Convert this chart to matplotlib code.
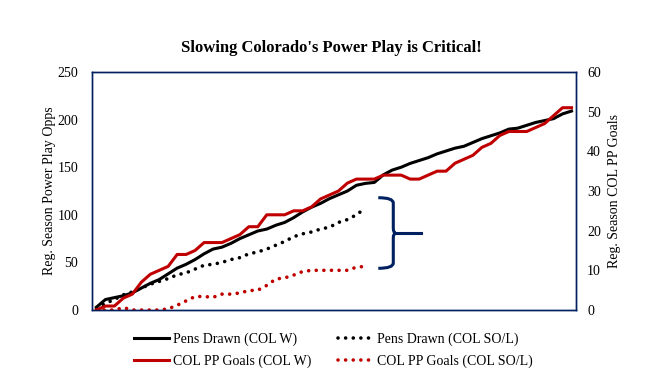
import numpy as np
import matplotlib
matplotlib.use('Agg')
import matplotlib.pyplot as plt
from matplotlib.path import Path
from matplotlib.patches import PathPatch

plt.rcParams['font.family'] = ['Liberation Serif', 'DejaVu Serif']

#Data (cumulative by game)
pens_w = [3, 11, 13, 15, 18, 23, 28, 32, 38, 44, 48, 53, 59, 64, 66, 70, 75, 79,
          83, 85, 89, 92, 97, 103, 108, 112, 117, 121, 125, 131, 133, 134, 142,
          147, 150, 154, 157, 160, 164, 167, 170, 172, 176, 180, 183, 186, 190,
          191, 194, 197, 199, 201, 206, 209]
pp_w = [0, 1, 1, 3, 4, 7, 9, 10, 11, 14, 14, 15, 17, 17, 17, 18, 19, 21, 21, 24,
        24, 24, 25, 25, 26, 28, 29, 30, 32, 33, 33, 33, 34, 34, 34, 33, 33, 34,
        35, 35, 37, 38, 39, 41, 42, 44, 45, 45, 45, 46, 47, 49, 51, 51]
pens_l = [2, 7, 11, 16, 19, 23, 27, 30, 33, 37, 39, 43, 47, 48, 50, 53, 55, 59,
          61, 64, 68, 72, 77, 80, 82, 85, 87, 92, 95, 100, 107]
pp_l = [0, 0, 0, 0.6, 0, 0, 0, 0, 0.3, 1.2, 2.3, 3.4, 3.4, 3.2, 4, 4, 4.3, 4.9,
        5, 6.2, 7.8, 8.1, 8.8, 9.7, 10, 10, 10, 10, 10, 10.8, 11]

navy = '#002060'
red = '#C00000'

fig = plt.figure(figsize=(6.45, 3.75), dpi=100)
ax = fig.add_axes([92/645, 65/375, 484/645, 238/375])
ax2 = ax.twinx()

dots = (0, (0.01, 2.1))
l1, = ax.plot(range(len(pens_w)), pens_w, color='black', lw=2.2,
              label='Pens Drawn (COL W)')
l3, = ax.plot(range(len(pens_l)), pens_l, color='black', lw=2.6, ls=dots,
              dash_capstyle='round', label='Pens Drawn (COL SO/L)')
l2, = ax2.plot(range(len(pp_w)), pp_w, color=red, lw=2.2,
               label='COL PP Goals (COL W)')
l4, = ax2.plot(range(len(pp_l)), pp_l, color=red, lw=2.6, ls=dots,
               dash_capstyle='round', label='COL PP Goals (COL SO/L)')

ax.set_xlim(-0.5, len(pens_w) - 0.5)
ax.set_ylim(0, 250)
ax2.set_ylim(0, 60)
ax.set_yticks(np.arange(0, 251, 50))
ax2.set_yticks(np.arange(0, 61, 10))
ax.set_xticks([])
ax.tick_params(axis='y', length=0, labelsize=10, pad=10)
ax2.tick_params(axis='y', length=0, labelsize=10, pad=8)
for a in (ax, ax2):
    for s in a.spines.values():
        s.set_color(navy)
        s.set_linewidth(1)

ax.set_ylabel('Reg. Season Power Play Opps', fontsize=10, labelpad=1)
ax2.set_ylabel('Reg. Season COL PP Goals', fontsize=10, labelpad=5)

fig.suptitle("Slowing Colorado's Power Play is Critical!", fontsize=12,
             fontweight='bold', x=0.513, y=0.893)

#bracket
verts = [(0.5915, 0.4718), (0.6225, 0.4718), (0.6225, 0.4496),
         (0.6225, 0.3445), (0.6225, 0.3223), (0.628, 0.3223),
         (0.6225, 0.3223), (0.6225, 0.3025),
         (0.6225, 0.1975), (0.6225, 0.1752), (0.5915, 0.1752)]
codes = [Path.MOVETO, Path.CURVE3, Path.CURVE3,
         Path.LINETO, Path.CURVE3, Path.CURVE3,
         Path.CURVE3, Path.CURVE3,
         Path.LINETO, Path.CURVE3, Path.CURVE3]
ax2.add_patch(PathPatch(Path(verts, codes), fill=False, edgecolor=navy,
                        lw=2.2, transform=ax2.transAxes, clip_on=False))
ax2.plot([0.628, 0.6798], [0.3223, 0.3223], color=navy, lw=2.2,
         transform=ax2.transAxes)

fig.legend([l1, l2, l3, l4], [l1.get_label(), l2.get_label(), l3.get_label(), l4.get_label()],
           ncol=2, loc='upper center', bbox_to_anchor=(0.517, 0.128), frameon=False,
           fontsize=10, handlelength=2.5, handletextpad=0.3, columnspacing=1.9,
           labelspacing=0.6, borderaxespad=0)

plt.savefig('out.png', dpi=100)
